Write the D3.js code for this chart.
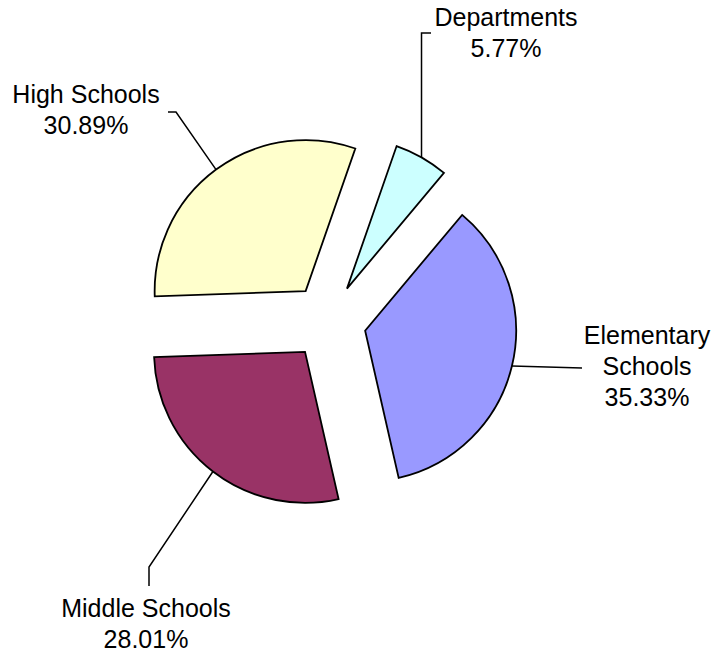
<!DOCTYPE html>
<html>
<head>
<meta charset="utf-8">
<script src="https://cdn.jsdelivr.net/npm/d3@7"></script>
<style>
body { margin:0; background:white; }
text { font-family: Arial, "Liberation Sans", sans-serif; font-size:25px; fill:black; }
</style>
</head>
<body>
<svg></svg>
<script>

var screen = {width:714,height:652}

// chart data
var categories = ["Departments","Elementary Schools","Middle Schools","High Schools"]
var values = [5.77,35.33,28.01,30.89]
var colors = ["#CCFFFF","#9999FF","#993366","#FFFFCC"]

// label text lines for each slice
var labelLines = [
    ["Departments","5.77%"],
    ["Elementary","Schools","35.33%"],
    ["Middle Schools","28.01%"],
    ["High Schools","30.89%"]
]

// where the labels sit and how the leader lines bend
var labelLayout = [
    {x:506, y:26, bend:[["arc",33],[431,33]]},
    {x:647, y:344, bend:[[582,368]]},
    {x:146, y:617, bend:[[149,567],[149,586]]},
    {x:86, y:103, bend:[[176,112],[168,112]]}
]

var center = {x:328.2,y:321.7}
var radius = 151
var explode = 38
var startAngle = 19.2 * Math.PI / 180
var lineGap = 31


var setup = function()
{
    var svg = d3.select("svg")
      .attr("width",screen.width)
      .attr("height",screen.height)

    var pie = d3.pie()
        .sort(null)
        .value(function(d){return d})
        .startAngle(startAngle)
        .endAngle(startAngle + 2*Math.PI)

    var arcs = pie(values)

    var arc = d3.arc()
        .innerRadius(0)
        .outerRadius(radius)

    var g = svg.append("g")
        .attr("id","pie")
        .attr("transform","translate("+center.x+","+center.y+")")

    g.selectAll("path")
        .data(arcs)
        .enter()
        .append("path")
        .attr("transform",function(d){
            var o = offset(d)
            return "translate("+o[0]+","+o[1]+")"
        })
        .attr("d",arc)
        .style("fill",function(d,i){return colors[i]})
        .style("stroke","black")
        .style("stroke-width",1.8)
        .style("stroke-linejoin","miter")

    drawLeaders(svg, arcs)
    drawLabels(svg)
}


// push a slice out along its middle angle
var offset = function(d)
{
    var mid = (d.startAngle + d.endAngle)/2
    return [explode*Math.sin(mid), -explode*Math.cos(mid)]
}


var drawLeaders = function(svg, arcs)
{
    var line = d3.line()

    arcs.forEach(function(d,i)
    {
        var mid = (d.startAngle + d.endAngle)/2
        var o = offset(d)
        var sx = center.x + o[0] + radius*Math.sin(mid)
        var sy = center.y + o[1] - radius*Math.cos(mid)

        var pts = [[sx,sy]]
        labelLayout[i].bend.forEach(function(p)
        {
            if (p[0] == "arc") {pts.push([sx,p[1]])}
            else {pts.push(p)}
        })

        svg.append("path")
            .attr("d",line(pts))
            .style("fill","none")
            .style("stroke","black")
            .style("stroke-width",1.5)
    })
}


var drawLabels = function(svg)
{
    labelLines.forEach(function(lines,i)
    {
        var t = svg.append("text")
            .attr("text-anchor","middle")

        lines.forEach(function(s,j)
        {
            t.append("tspan")
                .attr("x",labelLayout[i].x)
                .attr("y",labelLayout[i].y + j*lineGap)
                .text(s)
        })
    })
}

setup()

</script>
</body>
</html>
